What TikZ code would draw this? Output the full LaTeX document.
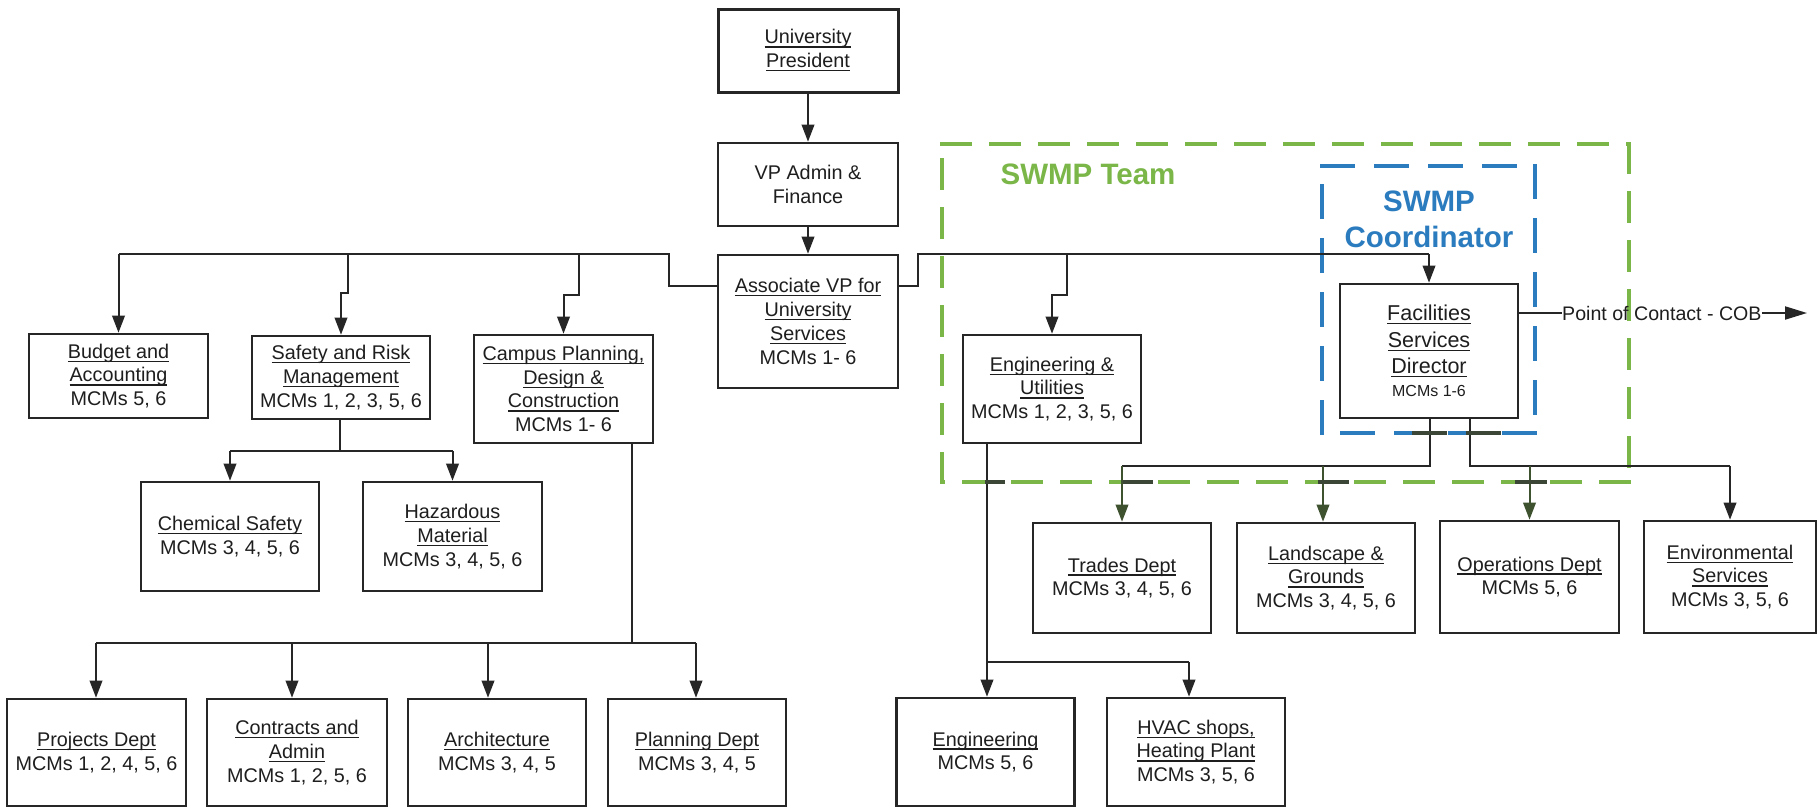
\documentclass[tikz,border=0pt]{standalone}
\usepackage{fontspec}
\setmainfont{Liberation Sans}
\usetikzlibrary{arrows.meta,calc,decorations}

% underlined word group with a rule at a fixed depth
\newsavebox\ulbox
\newcommand\uln[1]{\sbox\ulbox{#1}\rlap{\rule[-3.6pt]{\wd\ulbox}{1.2pt}}\usebox\ulbox}

\definecolor{ink}{HTML}{1E1E1E}
\definecolor{linec}{HTML}{262626}
\definecolor{teamgreen}{HTML}{7AB648}
\definecolor{coordblue}{HTML}{2B7BBF}
\definecolor{olivedark}{HTML}{3E5230}
\definecolor{tickc}{HTML}{3C4636}

\begin{document}
\begin{tikzpicture}[x=1pt,y=-1pt,
  box/.style={draw=linec, line width=2.6pt, inner sep=0pt, align=center,
    text=ink, font=\fontsize{19.8}{23.8}\selectfont},
  conn/.style={draw=linec, line width=2pt, line join=miter},
  arr/.style={conn, -{Triangle[length=17pt,width=12.5pt]}},
  greenarr/.style={arr, draw=olivedark, fill=olivedark},
  dashbox/.style={line width=4pt, line cap=rect, dash expand off},
  tickmark/.style={draw=tickc, line width=4pt},
  grouplabel/.style={inner sep=0pt, align=center, font=\bfseries\fontsize{29.5}{36}\selectfont}
]
\useasboundingbox (0,0) rectangle (1817,809);
\fill[white] (0,0) rectangle (1817,809);

% ---------- team frames ----------
\begin{scope}[dashbox, teamgreen, dash pattern=on 28pt off 21pt]
  \draw (942,144) -- (1629,144);
  \draw (1629,144) -- (1629,482);
  \draw (1629,482) -- (942,482);
  \draw (942,482) -- (942,144);
\end{scope}
\begin{scope}[dashbox, coordblue, dash pattern=on 31pt off 23pt]
  \draw (1322,166) -- (1535,166);
  \draw (1535,166) -- (1535,433);
  \draw (1535,433) -- (1322,433);
  \draw (1322,433) -- (1322,166);
\end{scope}
\node[grouplabel, text=teamgreen] (teamlbl) at (1088,174) {SWMP Team};
\node[grouplabel, text=coordblue] (coordlbl) at (1429,219.5) {SWMP\\Coordinator};

% ---------- boxes ----------
\node[box, line width=3pt, minimum width=180pt, minimum height=83pt] (pres) at (808,50.5) {\uln{University}\\\uln{President}};
\node[box, minimum width=180pt, minimum height=83pt] (vp) at (808,184.5) {VP Admin \&\\Finance};
\node[box, minimum width=180pt, minimum height=133pt] (avp) at (808,321.5) {\uln{Associate VP for}\\\uln{University}\\\uln{Services}\\MCMs 1- 6};

\node[box, minimum width=179pt, minimum height=84pt] (budget) at (118.5,376) {\uln{Budget and}\\\uln{Accounting}\\MCMs 5, 6};
\node[box, minimum width=178pt, minimum height=83pt] (safety) at (341,377.5) {\uln{Safety and Risk}\\\uln{Management}\\MCMs 1, 2, 3, 5, 6};
\node[box, minimum width=179pt, minimum height=108pt] (campus) at (563.5,389) {\uln{Campus Planning,}\\\uln{Design \&}\\\uln{Construction}\\MCMs 1- 6};

\node[box, minimum width=178pt, minimum height=109pt] (chem) at (230,536.5) {\uln{Chemical Safety}\\MCMs 3, 4, 5, 6};
\node[box, minimum width=179pt, minimum height=109pt] (haz) at (452.5,536.5) {\uln{Hazardous}\\\uln{Material}\\MCMs 3, 4, 5, 6};

\node[box, minimum width=179pt, minimum height=107pt] (proj) at (96.5,752.5) {\uln{Projects Dept}\\MCMs 1, 2, 4, 5, 6};
\node[box, minimum width=180pt, minimum height=107pt] (contr) at (297,752.5) {\uln{Contracts and}\\\uln{Admin}\\MCMs 1, 2, 5, 6};
\node[box, minimum width=178pt, minimum height=107pt] (arch) at (497,752.5) {\uln{Architecture}\\MCMs 3, 4, 5};
\node[box, minimum width=178pt, minimum height=107pt] (plan) at (697,752.5) {\uln{Planning Dept}\\MCMs 3, 4, 5};

\node[box, minimum width=178pt, minimum height=108pt] (eu) at (1052,389) {\uln{Engineering \&}\\\uln{Utilities}\\MCMs 1, 2, 3, 5, 6};
\node[box, minimum width=178pt, minimum height=134pt, font=\fontsize{21.5}{26.5}\selectfont] (fac) at (1429,351)
  {\uln{Facilities}\\\uln{Services}\\\uln{Director}\\[-3.5pt]{\fontsize{16}{19}\selectfont MCMs 1-6}};

\node[box, minimum width=178pt, minimum height=108pt] (eng) at (985.5,752) {\uln{Engineering}\\MCMs 5, 6};
\node[box, minimum width=178pt, minimum height=108pt] (hvac) at (1196,752) {\uln{HVAC shops,}\\\uln{Heating Plant}\\MCMs 3, 5, 6};

\node[box, minimum width=178pt, minimum height=110pt] (trades) at (1122,578) {\uln{Trades Dept}\\MCMs 3, 4, 5, 6};
\node[box, minimum width=178pt, minimum height=110pt] (land) at (1326,578) {\uln{Landscape \&}\\\uln{Grounds}\\MCMs 3, 4, 5, 6};
\node[box, minimum width=179pt, minimum height=112pt] (ops) at (1529.5,577) {\uln{Operations Dept}\\MCMs 5, 6};
\node[box, minimum width=172pt, minimum height=112pt] (env) at (1730,577) {\uln{Environmental}\\\uln{Services}\\MCMs 3, 5, 6};

% ---------- top of the chain ----------
\draw[arr] (pres) -- (vp);
\draw[arr] (vp) -- (avp);

\coordinate (hook) at (0,286);
\coordinate (lstep) at (669,254);
\coordinate (rstep) at (918,254);

% left-hand trunk
\draw[conn] (avp.west |- hook) -| (lstep) -- (budget.north |- lstep);
\draw[arr] (budget.north |- lstep) -- (budget.north);
\coordinate (sjog) at (348,293);
\draw[arr] (sjog |- lstep) -- (sjog) -- (safety.north |- sjog) -- (safety.north);
\coordinate (cjog) at (579,295);
\draw[arr] (cjog |- lstep) -- (cjog) -- (campus.north |- cjog) -- (campus.north);

% right-hand trunk
\draw[conn] (avp.east |- hook) -| (rstep) -- (fac.north |- rstep);
\draw[arr] (fac.north |- rstep) -- (fac.north);
\coordinate (ejog) at (1067,295);
\draw[arr] (ejog |- rstep) -- (ejog) -- (eu.north |- ejog) -- (eu.north);

% safety and risk branch
\coordinate (sbus) at (340,451);
\draw[conn] (sbus |- safety.south) -- (sbus);
\draw[conn] (chem.north |- sbus) -- (haz.north |- sbus);
\draw[arr] (chem.north |- sbus) -- (chem.north);
\draw[arr] (haz.north |- sbus) -- (haz.north);

% campus planning branch
\coordinate (cbus) at (632,643);
\coordinate (pa) at (96,643);
\coordinate (ca) at (292,643);
\coordinate (aa) at (488,643);
\coordinate (pla) at (696,643);
\draw[conn] (cbus |- campus.south) -- (cbus);
\draw[conn] (pa) -- (pla);
\draw[arr] (pa) -- (pa |- proj.north);
\draw[arr] (ca) -- (ca |- contr.north);
\draw[arr] (aa) -- (aa |- arch.north);
\draw[arr] (pla) -- (pla |- plan.north);

% engineering and utilities branch
\coordinate (ebus) at (987,662);
\coordinate (ha) at (1189,662);
\draw[conn] (ebus |- eu.south) -- (ebus) -- (ha);
\draw[arr] (ebus) -- (ebus |- eng.north);
\draw[arr] (ha) -- (ha |- hvac.north);

% facilities services branch
\coordinate (fl) at (1430,466);
\coordinate (fr) at (1470,466);
\coordinate (la) at (1323,466);
\draw[conn] (fl |- fac.south) -- (fl) -- (trades.north |- fl);
\draw[conn] (fr |- fac.south) -- (fr) -- (env.north |- fr);
\draw[greenarr] (trades.north |- fl) -- (trades.north);
\draw[greenarr] (la) -- (la |- land.north);
\draw[greenarr] (ops.north |- fr) -- (ops.north);
\draw[arr] (env.north |- fr) -- (env.north);

% crossings of the frames
\draw[tickmark] (1412,433) -- (1447,433);
\draw[tickmark] (1466,433) -- (1501,433);
\draw[tickmark] (985,482) -- (1005,482);
\draw[tickmark] (1123,482) -- (1153,482);
\draw[tickmark] (1318,482) -- (1349,482);
\draw[tickmark] (1515,482) -- (1547,482);

% point of contact
\node[inner sep=0pt, anchor=west, text=ink, font=\fontsize{19.6}{23}\selectfont] (poc) at (1562,313) {Point of Contact - COB};
\coordinate (cob) at (1807,313);
\draw[conn] (fac.east |- poc.west) -- (poc.west);
\draw[conn, -{Triangle[length=22pt,width=13pt]}] (poc.east) -- (cob);
\end{tikzpicture}
\end{document}
